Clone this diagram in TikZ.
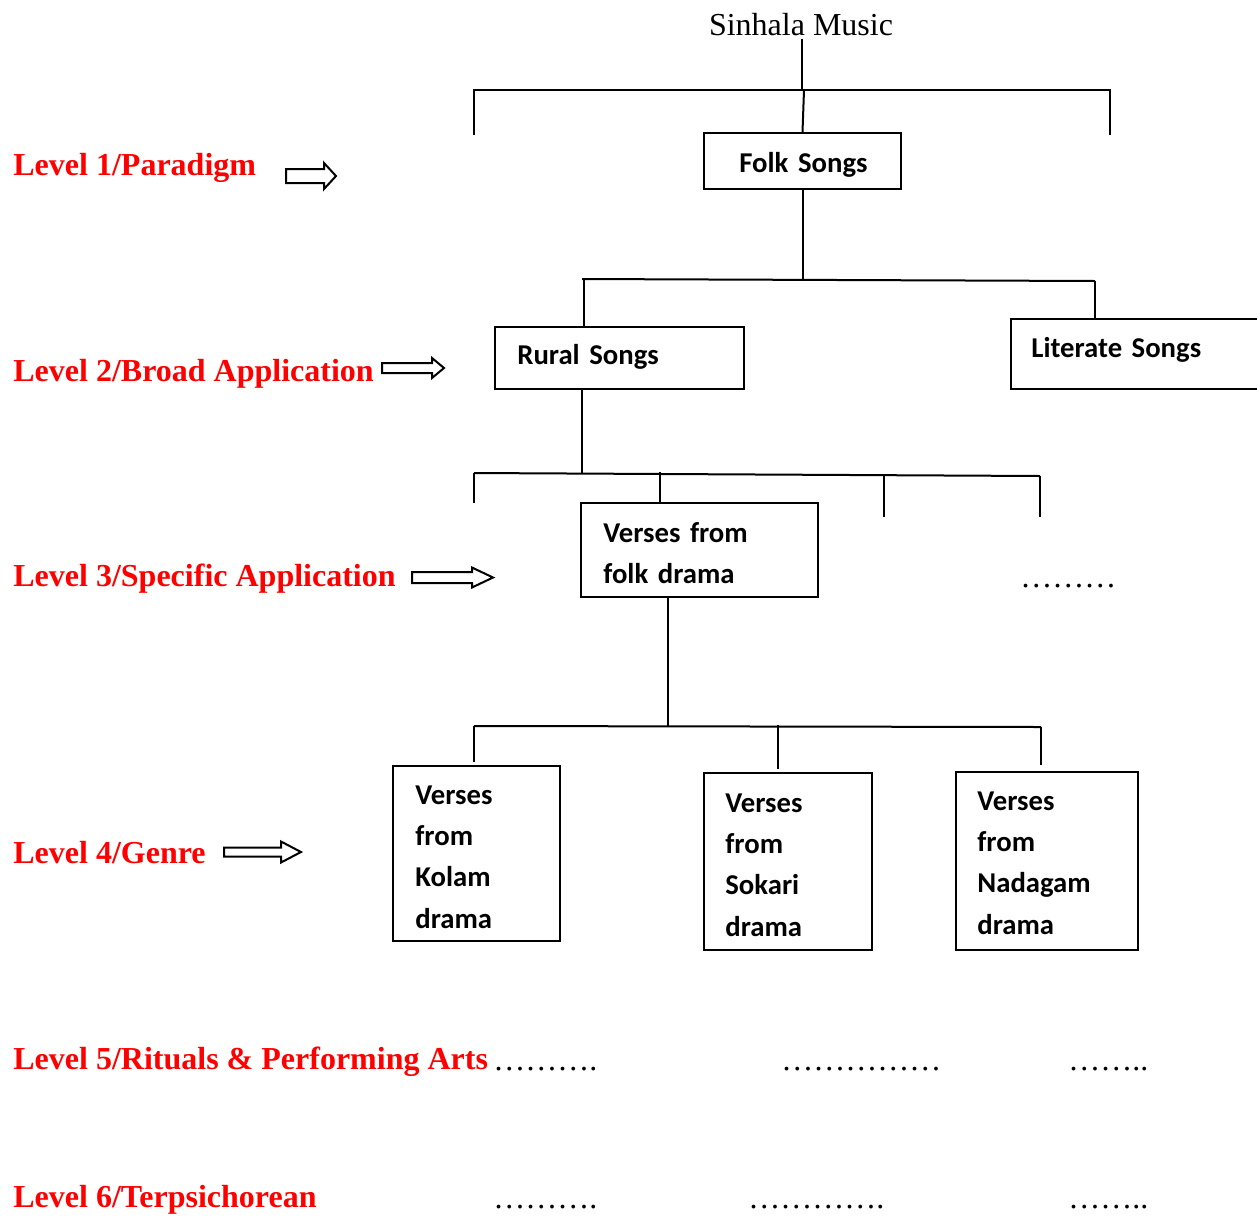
\documentclass[tikz,border=0pt]{standalone}
\usepackage{fontspec}
\setmainfont{Liberation Serif}
\newfontfamily\carlitofam{Carlito}
\usetikzlibrary{fit}
\definecolor{lvlred}{RGB}{255,0,0}
\newcommand\levelfont{\fontsize{16}{19}\selectfont\bfseries}
\newcommand\serialfont{\fontsize{16}{19}\selectfont}
\newcommand\boxtextfont{\carlitofam\bfseries\fontsize{14.35}{20.7}\selectfont}
% hollow block arrow: x-start, x-neck, x-tip, y-centre, body half-height, head half-height
\newcommand\hollowarrow[6]{%
  \draw[hollow] (#1,{#4-#5}) -- (#2,{#4-#5}) -- (#2,{#4-#6}) -- (#3,#4)
    -- (#2,{#4+#6}) -- (#2,{#4+#5}) -- (#1,{#4+#5}) -- cycle;}

\begin{document}
\begin{tikzpicture}[x=0.5pt,y=-0.5pt,
  level/.style={font=\levelfont, text=lvlred, anchor=base west, inner sep=0pt},
  title/.style={font=\serialfont, anchor=base, inner sep=0pt},
  fillin/.style={font=\serialfont, anchor=base west, inner sep=0pt},
  frame/.style={draw, line width=1pt, inner sep=0pt},
  boxtext/.style={font=\boxtextfont, anchor=base west, inner sep=0pt, align=left, text width=90pt},
  link/.style={line width=1pt},
  hollow/.style={draw, line width=1pt, line join=miter},
]
\useasboundingbox (0,0) rectangle (1257,1216);

% ---- level captions ----
\node[level] (lv1) at (13,175)  {Level 1/Paradigm};
\node[level] (lv2) at (13,381)  {Level 2/Broad Application};
\node[level] (lv3) at (13,586)  {Level 3/Specific Application};
\node[level] (lv4) at (13,863)  {Level 4/Genre};
\node[level] (lv5) at (13,1069) {Level 5/Rituals \& Performing Arts};
\node[level] (lv6) at (13,1207) {Level 6/Terpsichorean};

% ---- pointing arrows ----
\hollowarrow{286}{324}{336}{176}{7}{13}
\hollowarrow{382}{432}{444}{368}{5}{10}
\hollowarrow{412}{472}{493}{577.5}{5.5}{10}
\hollowarrow{224}{281}{301}{852}{4.5}{10.5}

% ---- root ----
\node[title] (music) at (801,35) {Sinhala Music};

% ---- boxes ----
\node[frame, fit={(704,133) (901,189)}] (folk) {};
\node[boxtext] (folkt) at (739,172) {Folk Songs};

\node[frame, fit={(495,327) (744,389)}] (rural) {};
\node[boxtext] (ruralt) at (517,364) {Rural Songs};

\node[frame, fit={(1011,319) (1268,389)}] (lit) {};
\node[boxtext] (litt) at (1031,357) {Literate Songs};

\node[frame, fit={(581,503) (818,597)}] (vf) {};
\node[boxtext, text width=120pt] (vft) at (603,542) {Verses from\\folk drama};

\node[frame, fit={(393,766) (560,941)}] (kolam) {};
\node[boxtext] (kolamt) at (415,804) {Verses\\from\\Kolam\\drama};

\node[frame, fit={(704,773) (872,950)}] (sokari) {};
\node[boxtext] (sokarit) at (725,812) {Verses\\from\\Sokari\\drama};

\node[frame, fit={(956,772) (1138,950)}] (nadagam) {};
\node[boxtext] (nadagamt) at (977,810) {Verses\\from\\Nadagam\\drama};

% ---- empty slots ----
\node[fillin] (s3)  at (1020,587) {………};
\node[fillin] (s5a) at (493,1070) {……….};
\node[fillin] (s5b) at (781,1070) {……………};
\node[fillin] (s6a) at (493,1208) {……….};
\node[fillin] (s6b) at (748,1208) {…………{.}};
\node[fillin] (s5c) at (1068,1070) {……..};
\node[fillin] (s6c) at (1068,1208) {……..};

% ---- tree connectors ----
% root to level 1
\coordinate (j0) at (802,90);
\coordinate (t1a) at (474,135);
\coordinate (t1b) at (1110,135);
\draw[link] ([yshift=-1.5pt]music.south -| j0) -- (j0);
\draw[link] (t1a) |- (j0) -| (t1b);
\draw[link] ([xshift=1pt]j0) -- (folk.north);

% level 1 to level 2
\coordinate (h2l) at (582,279);
\coordinate (h2r) at (1095,281);
\coordinate (d2a) at (584,279);
\draw[link] (folk.south) -- (folk.south |- h2l);
\draw[link] (h2l) -- (h2r);
\draw[link] (d2a) -- (d2a |- rural.north);
\draw[link] (h2r) -- (h2r |- lit.north);

% level 2 to level 3
\coordinate (j2) at (582,473);
\coordinate (h3l) at (474,473);
\coordinate (h3r) at (1040,476);
\coordinate (t3a) at (474,503);
\coordinate (t3c) at (884,517);
\coordinate (t3d) at (1040,517);
\coordinate (d3b) at (660,472);
\draw[link] (j2 |- rural.south) -- (j2);
\draw[link] (h3l) -- (h3r);
\draw[link] (h3l) -- (t3a);
\draw[link] (d3b) -- (d3b |- vf.north);
\draw[link] (t3c |- h3r) -- (t3c);
\draw[link] (h3r) -- (t3d);

% level 3 to level 4
\coordinate (j3) at (668,726);
\coordinate (h4l) at (474,726);
\coordinate (h4r) at (1041,727);
\coordinate (d4b) at (778,725);
\draw[link] (j3 |- vf.south) -- (j3);
\draw[link] (h4l) -- (h4r);
\draw[link, shorten >=1.5pt] (h4l) -- (h4l |- kolam.north);
\draw[link, shorten >=1.5pt] (d4b) -- (d4b |- sokari.north);
\draw[link, shorten >=3pt] (h4r) -- (h4r |- nadagam.north);
\end{tikzpicture}
\end{document}
